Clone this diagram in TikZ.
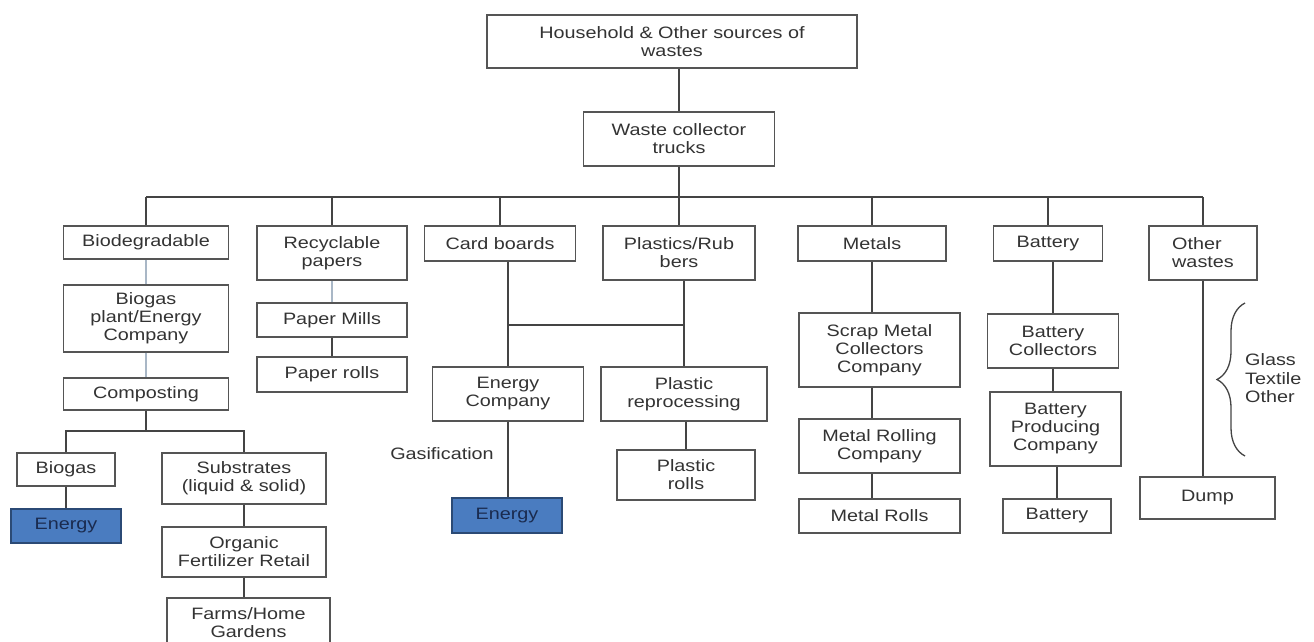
\documentclass[tikz,border=0pt]{standalone}
\usepackage{fontspec}
\setmainfont{Liberation Sans}[FakeStretch=1.2]
\usetikzlibrary{decorations.pathreplacing}
\definecolor{txt}{HTML}{333333}
\definecolor{ln}{HTML}{444444}
\definecolor{lt}{HTML}{A9B7C6}
\definecolor{bd}{HTML}{555555}
\definecolor{ebl}{HTML}{4A7CC0}
\definecolor{ebd}{HTML}{2B4A75}
\definecolor{etx}{HTML}{1A2B4F}
\begin{document}
\begin{tikzpicture}[x=1pt,y=-1pt,
 box/.style={draw=bd, line width=1.6pt, fill=white, inner sep=0pt, align=center, text=txt, font=\fontsize{16.5}{18}\selectfont},
 ebox/.style={box, fill=ebl, draw=ebd, text=etx},
 sz/.style n args={2}{minimum width=#1pt, minimum height=#2pt},
 lbl/.style={inner sep=0pt, text=txt, font=\fontsize{16.5}{18.5}\selectfont},
 link/.style={draw=ln, line width=2pt},
 lite/.style={draw=lt, line width=2pt}]
\useasboundingbox[fill=white] (0,0) rectangle (1314,642);
% top
\node[box, sz={370}{53}] (top) at (672,41.5) {Household \& Other sources of\\wastes};
\node[box, sz={191}{54}] (wc) at (679,139) {Waste collector\\trucks};
% level 1
\node[box, sz={165}{33}] (bio) at (146,242.5) {Biodegradable};
\node[box, sz={150}{54}] (rec) at (332,253) {Recyclable\\papers};
\node[box, sz={151}{35}] (card) at (500,243.5) {Card boards};
\node[box, sz={152}{54}] (plast) at (679,253) {Plastics/Rub\\bers};
\node[box, sz={148}{35}] (metals) at (872,243.5) {Metals};
\node[box, sz={109}{35}] (batt) at (1048,243.5) {Battery};
\node[box, sz={108}{54}, align=left] (other) at (1203,253) {Other\\wastes};
% biodegradable column
\node[box, sz={165}{67}] (bgp) at (146,318.5) {Biogas\\plant/Energy\\Company};
\node[box, sz={165}{32}] (comp) at (146,394) {Composting};
\node[box, sz={98}{33}] (biogas) at (66,469.5) {Biogas};
\node[ebox, sz={110}{34}] (en1) at (66,526) {Energy};
\node[box, sz={164}{51}] (subs) at (244,478.5) {Substrates\\(liquid \& solid)};
\node[box, sz={164}{50}] (ofr) at (244,552) {Organic\\Fertilizer Retail};
\node[box, sz={163}{50}] (farms) at (248.5,623) {Farms/Home\\Gardens};
% paper column
\node[box, sz={150}{34}] (mills) at (332,320) {Paper Mills};
\node[box, sz={150}{35}] (prolls) at (332,374.5) {Paper rolls};
% card / plastics
\node[box, sz={151}{54}] (ec) at (508,394) {Energy\\Company};
\node[box, sz={166}{54}] (pr) at (684,394) {Plastic\\reprocessing};
\node[ebox, sz={110}{35}] (en2) at (507,515.5) {Energy};
\node[lbl] (gas) at (442,454) {Gasification};
\node[box, sz={138}{50}] (plrolls) at (686,475) {Plastic\\rolls};
% metals
\node[box, sz={161}{74}] (scrap) at (879.5,350) {Scrap Metal\\Collectors\\Company};
\node[box, sz={161}{54}] (mroll) at (879.5,446) {Metal Rolling\\Company};
\node[box, sz={161}{34}] (mrolls) at (879.5,516) {Metal Rolls};
% battery
\node[box, sz={131}{54}] (bcoll) at (1053,341) {Battery\\Collectors};
\node[box, sz={131}{74}] (bprod) at (1055.5,429) {Battery\\Producing\\Company};
\node[box, sz={108}{34}] (b2) at (1057,516) {Battery};
% other
\node[box, sz={135}{42}] (dump) at (1207.5,498) {Dump};
\node[lbl, anchor=west, align=left] (gto) at (1245,378.5) {Glass\\Textile\\Other};
% connectors
\coordinate (bus) at (679,197);
\draw[link] (top.south -| wc.north) -- (wc.north);
\draw[link] (wc.south) -- (bus);
\draw[link] (bio.north |- bus) -- (other.north |- bus);
\foreach \n in {bio,rec,card,plast,metals,batt,other}
  \draw[link] (\n.north) -- (\n.north |- bus);
\draw[lite] (bio.south) -- (bgp.north);
\draw[lite] (bgp.south) -- (comp.north);
\coordinate (br1) at (146,431);
\draw[link] (comp.south) -- (br1);
\draw[link] (biogas.north) -- (biogas.north |- br1) -- (subs.north |- br1) -- (subs.north);
\draw[link] (biogas.south) -- (en1.north);
\draw[link] (subs.south) -- (ofr.north);
\draw[link] (ofr.south) -- (ofr.south |- farms.north);
\draw[lite] (rec.south) -- (mills.north);
\draw[link] (mills.south) -- (prolls.north);
\coordinate (j) at (0,325);
\draw[link] (ec.north) -- (ec.north |- card.south);
\draw[link] (pr.north) -- (pr.north |- plast.south);
\draw[link] (ec.north |- j) -- (pr.north |- j);
\draw[link] (ec.south) -- (ec.south |- en2.north);
\draw[link] (plrolls.north |- pr.south) -- (plrolls.north);
\draw[link] (metals.south) -- (metals.south |- scrap.north);
\draw[link] (metals.south |- scrap.south) -- (metals.south |- mroll.north);
\draw[link] (metals.south |- mroll.south) -- (metals.south |- mrolls.north);
\draw[link] (bcoll.north) -- (bcoll.north |- batt.south);
\draw[link] (bcoll.south) -- (bcoll.south |- bprod.north);
\draw[link] (b2.north |- bprod.south) -- (b2.north);
\draw[link] (other.south) -- (other.south |- dump.north);
\coordinate (brb) at (1245,456);
\coordinate (brt) at (1245,303);
\draw[ln, line width=1.3pt, decorate, decoration={brace, amplitude=28pt}] (brb) -- (brt);
\end{tikzpicture}
\end{document}
